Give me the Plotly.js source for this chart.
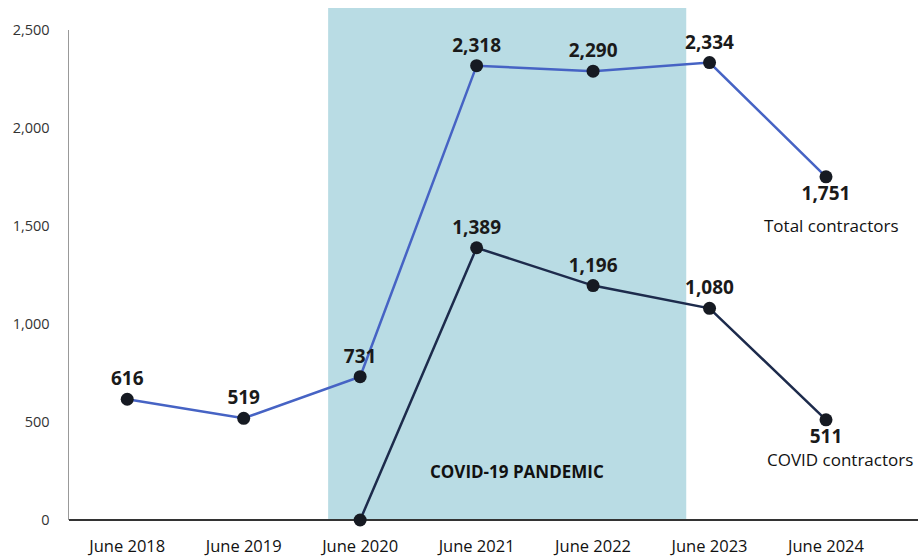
<!DOCTYPE html>
<html><head><meta charset="utf-8">
<script src="https://cdn.plot.ly/plotly-3.0.1.min.js"></script>
<style>html,body{margin:0;padding:0;background:#fff}#chart{width:918px;height:556px}</style>
</head><body><div id="chart"></div>
<script>
const categories = ["June 2018","June 2019","June 2020","June 2021","June 2022","June 2023","June 2024"];
const totalCats = categories;
const totalValues = [616, 519, 731, 2318, 2290, 2334, 1751];
const covidCats = ["June 2020","June 2021","June 2022","June 2023","June 2024"];
const covidValues = [0, 1389, 1196, 1080, 511];
const yTicks = [0, 500, 1000, 1500, 2000, 2500];
const yTickLabels = ["0","500","1,000","1,500","2,000","2,500"];

const FONT = "Open Sans, Noto Sans, sans-serif";
const fmt = v => v.toLocaleString("en-US");

const totalPos = totalValues.map((v,i)=> i===totalValues.length-1 ? "bottom center" : "top center");
const covidPos = covidValues.map((v,i)=> i===covidValues.length-1 ? "bottom center" : "top center");
const covidText = covidValues.map((v,i)=> i===0 ? "" : "<b>"+fmt(v)+"</b>");

const traces = [
  {type:"scatter", mode:"lines+markers+text", x: totalCats, y: totalValues,
   line:{color:"#4663c4", width:2.5},
   marker:{color:"#161a22", size:13},
   text: totalValues.map(v=>"<b>"+fmt(v)+"</b>"), textposition: totalPos,
   textfont:{family:FONT, size:19, color:"#1a1a1a"}, cliponaxis:false, hoverinfo:"skip"},
  {type:"scatter", mode:"lines+markers+text", x: covidCats, y: covidValues,
   line:{color:"#1d2b4c", width:2.5},
   marker:{color:"#161a22", size:13},
   text: covidText, textposition: covidPos,
   textfont:{family:FONT, size:19, color:"#1a1a1a"}, cliponaxis:false, hoverinfo:"skip"}
];

const layout = {
  width:918, height:556,
  margin:{l:69, r:0, t:30, b:36},
  paper_bgcolor:"#fff", plot_bgcolor:"#fff",
  showlegend:false,
  font:{family:FONT, color:"#222"},
  xaxis:{type:"category", categoryarray:categories, range:[-0.5, 6.79],
    showgrid:false, zeroline:false, showline:false, ticks:"", ticklabelstandoff:14,
    tickfont:{family:FONT, size:16.5, color:"#111"}, fixedrange:true},
  yaxis:{range:[0,2500], tickvals:yTicks, ticktext:yTickLabels,
    showgrid:false, zeroline:true, zerolinecolor:"#333", zerolinewidth:1.5,
    showline:true, linecolor:"#999", linewidth:1.5, ticks:"", ticklabelstandoff:15,
    tickfont:{family:FONT, size:14.5, color:"#333"}, fixedrange:true},
  shapes:[
    {type:"rect", layer:"below", xref:"x", yref:"paper", x0:1.725, x1:4.8, y0:0, y1:1.045,
     fillcolor:"#b9dce4", line:{width:0}}
  ],
  annotations:[
    {xref:"x", yref:"y", x:6, y:1751, yshift:-49, xshift:5, text:"Total contractors", showarrow:false,
     font:{family:FONT, size:17, color:"#111"}},
    {xref:"x", yref:"y", x:6, y:511, yshift:-40, xshift:14, text:"COVID contractors", showarrow:false,
     font:{family:FONT, size:17, color:"#111"}},
    {xref:"x", yref:"y", x:3.35, y:250, text:"<b>COVID-19 PANDEMIC</b>", showarrow:false,
     font:{family:FONT, size:17, color:"#111"}}
  ]
};
Plotly.newPlot("chart", traces, layout, {staticPlot:true, displayModeBar:false});
</script></body></html>
